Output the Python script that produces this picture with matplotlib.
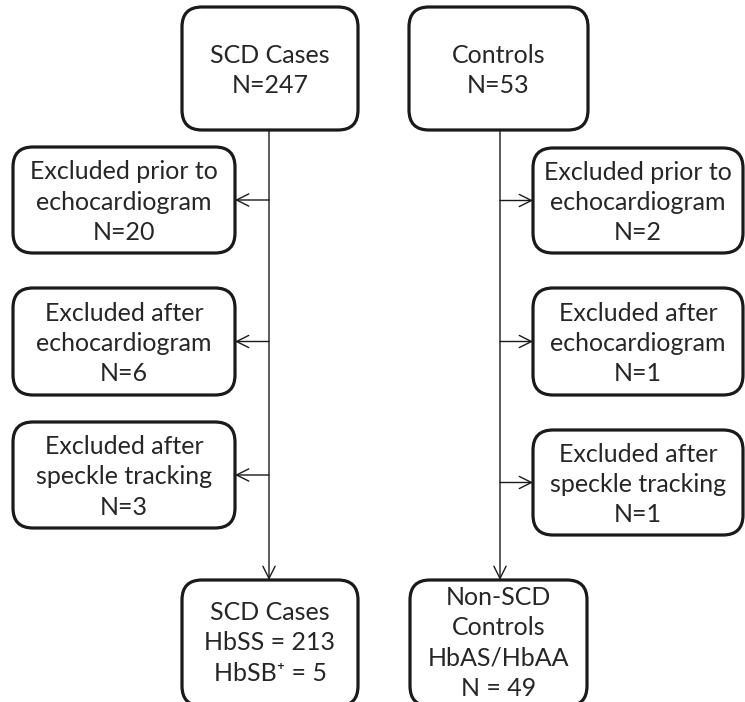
import matplotlib.pyplot as plt
from matplotlib.patches import FancyBboxPatch

plt.rcParams['font.family'] = ['Lato', 'DejaVu Sans']

# flowchart content
top_labels = ['SCD Cases\nN=247', 'Controls\nN=53']
left_excl = ['Excluded prior to\nechocardiogram\nN=20',
             'Excluded after\nechocardiogram\nN=6',
             'Excluded after\nspeckle tracking\nN=3']
right_excl = ['Excluded prior to\nechocardiogram\nN=2',
              'Excluded after\nechocardiogram\nN=1',
              'Excluded after\nspeckle tracking\nN=1']
bottom_labels = ['SCD Cases\nHbSS = 213\nHbSB\u207a = 5',
                 'Non-SCD\nControls\nHbAS/HbAA\nN = 49']

fig = plt.figure(figsize=(7.45, 7.02), dpi=100)
ax = fig.add_axes([0, 0, 1, 1])
ax.set_xlim(0, 745)
ax.set_ylim(702, 0)
ax.axis('off')

FS = 18


def box(x0, y0, x1, y1, text, dy=2):
    p = FancyBboxPatch((x0, y0), x1 - x0, y1 - y0,
                       boxstyle='round,pad=0,rounding_size=20',
                       facecolor='white', edgecolor='#1a1a1a', linewidth=2.3)
    ax.add_patch(p)
    ax.text((x0 + x1) / 2, (y0 + y1) / 2 + dy, text, ha='center', va='center',
            fontsize=FS, color='#262626', linespacing=1.38)


def arrow(x0, y0, x1, y1):
    ax.annotate('', xy=(x1, y1), xytext=(x0, y0),
                arrowprops=dict(arrowstyle='->', color='#1a1a1a', lw=1.0,
                                mutation_scale=22, shrinkA=0, shrinkB=0))


left_line, right_line = 269, 500

box(182, 7, 358, 130, top_labels[0])
box(409, 7, 588, 130, top_labels[1])

left_y = [(147, 253), (288, 395), (422, 528)]
right_y = [(148, 253), (288, 395), (430, 535)]

arrow(left_line, 130, left_line, 580)
arrow(right_line, 130, right_line, 580)

for (y0, y1), t in zip(left_y, left_excl):
    box(13, y0, 235, y1, t)
    arrow(left_line, (y0 + y1) / 2, 235, (y0 + y1) / 2)

for (y0, y1), t in zip(right_y, right_excl):
    box(533, y0, 743, y1, t)
    arrow(right_line, (y0 + y1) / 2, 533, (y0 + y1) / 2)

box(182, 580, 358, 706, bottom_labels[0], dy=0)
box(410, 580, 587, 706, bottom_labels[1], dy=0)

fig.savefig('out.png', dpi=100)
